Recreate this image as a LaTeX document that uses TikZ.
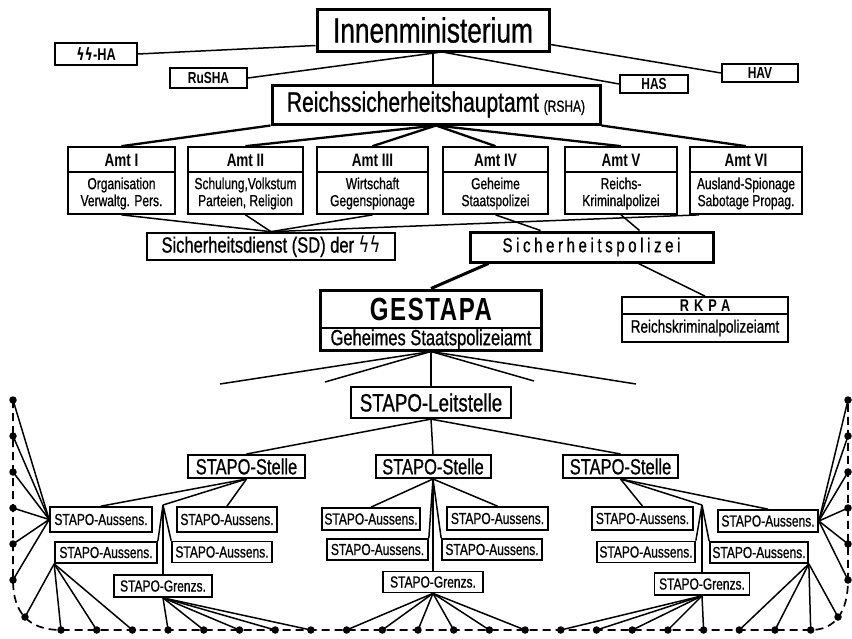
\documentclass[tikz,border=0pt]{standalone}
\usepackage{fontspec}
\setmainfont{Liberation Sans}[FakeStretch=0.75, UprightFeatures={FakeBold=0.8}]
\newfontfamily\runefont{DejaVu Sans}[FakeStretch=0.75]
\usetikzlibrary{calc}
\pgfdeclarelayer{bg}
\pgfsetlayers{bg,main}
\newcommand\myfs[2]{\fontsize{#1}{#2}\selectfont}
\newcommand\ssr{{\runefont ϟϟ}}
\begin{document}
\begin{tikzpicture}[x=1pt,y=-1pt,
  bx/.style={draw, fill=white, line width=1.7pt, inner sep=0pt, align=center},
  bigbx/.style={draw, fill=white, line width=3pt, inner sep=0pt, align=center},
  lbl/.style={inner sep=0pt, align=center},
  ln/.style={line width=1.5pt},
  tk/.style={line width=2.3pt},
  dot/.style={circle, fill=black, inner sep=0pt, minimum size=7.5pt},
  dsh/.style={line width=1.7pt, dash pattern=on 8pt off 5pt},
  aus/.style={bx, font=\myfs{16}{16}},
  stel/.style={bx, line width=2pt, minimum height=23pt, minimum width=115pt, font=\myfs{22}{22}}
]
\useasboundingbox (0,0) rectangle (852,638);
\begin{pgfonlayer}{bg}
\fill[white] (0,0) rectangle (852,638);
\end{pgfonlayer}

% ---------- top level ----------
\node[bigbx, minimum width=232pt, minimum height=42pt] (innen) at (433,30) {\myfs{35}{35}Innenministerium};
\node[bx, minimum width=82pt, minimum height=22pt, font=\bfseries\myfs{17}{17}] (ssha) at (96,54) {\ssr-HA};
\node[bx, minimum width=77pt, minimum height=20pt, font=\bfseries\myfs{16}{16}] (rusha) at (208.5,78) {RuSHA};
\node[bx, minimum width=68pt, minimum height=18pt, font=\bfseries\myfs{16}{16}] (has) at (654,84) {HAS};
\node[bx, minimum width=76pt, minimum height=18pt, font=\bfseries\myfs{16}{16}] (hav) at (760,73) {HAV};
\node[bigbx, minimum width=328pt, minimum height=39pt] (rsha) at (436,104.5) {\myfs{28}{28}Reichssicherheitshauptamt\,{\myfs{16}{16}(RSHA)}};

% ---------- Amt boxes ----------
\foreach \n/\cx/\w/\t/\s in {
  amt1/121.5/107/I/{Organisation\\Verwaltg. Pers.},
  amt2/245.5/115/II/{Schulung,Volkstum\\Parteien, Religion},
  amt3/372.5/111/III/{Wirtschaft\\Gegenspionage},
  amt4/495.5/105/IV/{Geheime\\Staatspolizei},
  amt5/621/112/V/{Reichs-\\Kriminalpolizei},
  amt6/746/112/VI/{Ausland-Spionage\\Sabotage Propag.}}{
  \node[bx, minimum width=\w pt, minimum height=67pt] (\n) at (\cx,180.5) {};
  \draw[line width=1.5pt] (\n.west |- 0,172) -- (\n.east |- 0,172);
  \node[lbl, font=\bfseries\myfs{18}{18}] at (\n.center |- 0,160) {Amt \t};
  \node[lbl, font=\myfs{16}{17}] at (\n.center |- 0,193.5) {\s};
}

% ---------- lower level boxes ----------
\node[bx, line width=2.6pt, minimum width=248pt, minimum height=27pt] (sd) at (271,246.5) {\myfs{22}{22}Sicherheitsdienst (SD) der \ssr};
\node[bigbx, minimum width=243pt, minimum height=30pt] (sipo) at (591.5,247) {\myfs{20}{20}\addfontfeatures{LetterSpace=18}Sicherheitspolizei};

\node[bigbx, minimum width=221pt, minimum height=60pt] (gest) at (431,320) {};
\draw[line width=1.7pt] (gest.west |- 0,328) -- (gest.east |- 0,328);
\node[lbl, font=\bfseries\myfs{32}{32}] at (gest.center |- 0,309) {\addfontfeatures{LetterSpace=5}GESTAPA};
\node[lbl, font=\myfs{22}{22}] at (gest.center |- 0,339.5) {Geheimes Staatspolizeiamt};

\node[bx, minimum width=166pt, minimum height=45pt] (rkpa) at (705,319.5) {};
\draw[line width=1.5pt] (rkpa.west |- 0,314) -- (rkpa.east |- 0,314);
\node[lbl, font=\bfseries\myfs{17}{17}] at (rkpa.center |- 0,305.5) {\addfontfeatures{LetterSpace=30}RKPA};
\node[lbl, font=\myfs{18}{18}] at (rkpa.center |- 0,328) {Reichskriminalpolizeiamt};

\node[bx, line width=2.2pt, minimum width=160pt, minimum height=31pt] (leit) at (431,402.5) {\myfs{25}{25}STAPO-Leitstelle};

\node[stel, minimum width=117pt] (stL) at (246.5,466.5) {STAPO-Stelle};
\node[stel] (stM) at (433,466.5) {STAPO-Stelle};
\node[stel] (stR) at (620.5,466.5) {STAPO-Stelle};

\node[aus, minimum width=102pt, minimum height=25pt] (aLA) at (101,519.5) {STAPO-Aussens.};
\node[aus, minimum width=100pt, minimum height=25pt] (aLB) at (227,519.5) {STAPO-Aussens.};
\node[aus, minimum width=102pt, minimum height=21pt] (aLC) at (106,552.5) {STAPO-Aussens.};
\node[aus, minimum width=100pt, minimum height=21pt] (aLD) at (222,552) {STAPO-Aussens.};
\node[aus, minimum width=98pt, minimum height=22pt] (gL) at (163,586) {STAPO-Grenzs.};

\node[aus, minimum width=98pt, minimum height=22pt] (aMA) at (371,519) {STAPO-Aussens.};
\node[aus, minimum width=101pt, minimum height=23pt] (aMB) at (497.5,518.5) {STAPO-Aussens.};
\node[aus, minimum width=101pt, minimum height=21pt] (aMC) at (377.5,549.5) {STAPO-Aussens.};
\node[aus, minimum width=100pt, minimum height=21pt] (aMD) at (492,549.5) {STAPO-Aussens.};
\node[aus, minimum width=100pt, minimum height=21pt] (gM) at (433,582) {STAPO-Grenzs.};

\node[aus, minimum width=101pt, minimum height=23pt] (aRA) at (642.5,518.5) {STAPO-Aussens.};
\node[aus, minimum width=100pt, minimum height=22pt] (aRB) at (768,521) {STAPO-Aussens.};
\node[aus, minimum width=98pt, minimum height=21pt] (aRC) at (646,552) {STAPO-Aussens.};
\node[aus, minimum width=98pt, minimum height=21pt] (aRD) at (759,552.5) {STAPO-Aussens.};
\node[aus, minimum width=95pt, minimum height=22pt] (gR) at (702,584) {STAPO-Grenzs.};

\coordinate (jL) at (163,505);
\coordinate (jR) at (702,505);
\coordinate (f1) at (220,384);
\coordinate (f2) at (325,382);
\coordinate (f3) at (534,381);
\coordinate (f4) at (636,384);

% ---------- dots ----------
\foreach \i in {0,...,21} \node[dot] (b\i) at ({61+35.7*\i},630) {};
\foreach \i/\y in {1/400,2/436,3/472,4/508,5/544,6/580}{
  \node[dot] (l\i) at (13,\y) {};
  \node[dot] (r\i) at (848,\y) {};
}
\node[dot] (lc) at (25,617) {};
\node[dot] (rc) at (838,617) {};

% ---------- connectors (background layer, above the white sheet) ----------
\begin{pgfonlayer}{bg}
\begin{scope}[ln]
  \draw ($(innen.south west)+(0,-7)$) -- (ssha.east);
  \draw ($(innen.south east)+(0,-8)$) -- (hav.west);
  \draw ($(innen.south)+(5,0)$) -- (rusha.east);
  \draw ($(innen.south)+(12,0)$) -- (has.west);
  \draw (innen.south) -- (innen.south |- rsha.north);
\end{scope}
\begin{scope}[tk]
  \draw (rsha.south west) -- (amt1.north);
  \foreach \a in {amt2,amt3,amt4,amt5} \draw (rsha.south) -- (\a.north);
  \draw (rsha.south east) -- (amt6.north);
\end{scope}
\begin{scope}[ln]
  \draw (amt1.south) -- (sd.north);
  \draw (amt2.south) -- (sd.north);
  \draw (amt3.south) -- (sd.north);
  \draw (sd.north) -- ($(amt6.south west)+(10,0)$);
  \draw (amt4.south) -- ($(sipo.north)+(-51,0)$);
  \draw (amt5.south) -- ($(sipo.north)+(48,0)$);
  \draw ($(sipo.south)+(47,0)$) -- (rkpa.north);
  \foreach \f in {f1,f2,f3,f4} \draw (gest.south) -- (\f);
  \draw (gest.south) -- (leit.north);
  \foreach \s in {stL,stM,stR} \draw (leit.south) -- (\s.north);
  % left group
  \draw (stL.south) -- (aLA.north);
  \draw (stL.south) -- (aLB.north);
  \draw (stL.south) -- (jL);
  \draw (jL) -- (aLC.north east);
  \draw (jL) -- (aLD.north west);
  \draw (jL) -- (gL.north);
  % middle group
  \draw (stM.south) -- (aMA.north);
  \draw (stM.south) -- (aMB.north);
  \draw (stM.south) -- (aMC.north east);
  \draw (stM.south) -- (aMD.north west);
  \draw (stM.south) -- (gM.north);
  % right group
  \draw (stR.south) -- (aRA.north);
  \draw (stR.south) -- (aRB.north);
  \draw (stR.south) -- (jR);
  \draw (jR) -- (aRC.north east);
  \draw (jR) -- (aRD.north west);
  \draw (jR) -- (gR.north);
  % to the dots
  \foreach \i in {1,...,6} \draw (aLA.west) -- (l\i.center);
  \foreach \t in {lc,b0,b1,b2} \draw (aLC.south west) -- (\t.center);
  \foreach \i in {3,...,7} \draw (gL.south) -- (b\i.center);
  \foreach \i in {8,...,13} \draw (gM.south) -- (b\i.center);
  \foreach \i in {14,...,18} \draw (gR.south) -- (b\i.center);
  \foreach \t in {rc,b19,b20,b21} \draw (aRD.south east) -- (\t.center);
  \foreach \i in {1,...,6} \draw (aRB.east) -- (r\i.center);
\end{scope}
\draw[line width=3pt] ($(sipo.south west)+(20,0)$) -- (gest.north);
% dashed boundary
\draw[dsh] (l1.center) -- (l6.center) .. controls (13,612) and (28,630) .. (b0.center)
  -- (b21.center) .. controls (835,630) and (848,612) .. (r6.center) -- (r1.center);
\end{pgfonlayer}
\end{tikzpicture}
\end{document}
